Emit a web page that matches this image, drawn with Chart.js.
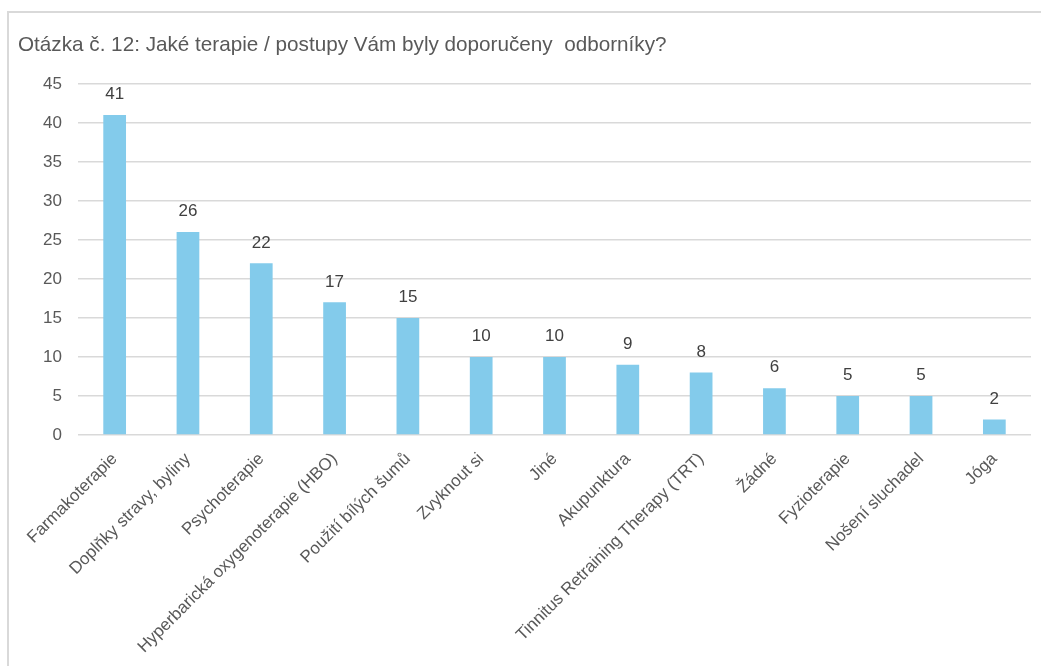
<!DOCTYPE html>
<html>
<head>
<meta charset="utf-8">
<script src="https://cdn.jsdelivr.net/npm/chart.js@4"></script>
<style>
  html, body { margin: 0; padding: 0; background: #fff; overflow: hidden; }
  .frame {
    position: absolute; left: 7px; top: 11px;
    width: 1040px; height: 660px;
    border: 2px solid #d9d9d9; background: #fff;
  }
  .frame canvas { position: absolute; left: 0; top: 0; }
</style>
</head>
<body>
<div class="frame"><canvas id="chart" width="1032" height="653"></canvas></div>
<script>
var categories = [
  "Farmakoterapie",
  "Doplňky stravy, byliny",
  "Psychoterapie",
  "Hyperbarická oxygenoterapie (HBO)",
  "Použití bílých šumů",
  "Zvyknout si",
  "Jiné",
  "Akupunktura",
  "Tinnitus Retraining Therapy (TRT)",
  "Žádné",
  "Fyzioterapie",
  "Nošení sluchadel",
  "Jóga"
];
var counts = [41, 26, 22, 17, 15, 10, 10, 9, 8, 6, 5, 5, 2];
var yTicks = [0, 5, 10, 15, 20, 25, 30, 35, 40, 45];

var titleText = "Otázka č. 12: Jaké terapie / postupy Vám byly doporučeny  odborníky?";

// value labels above each bar
var barValues = {
  id: "barValues",
  afterDatasetsDraw: function (chart) {
    var ctx = chart.ctx;
    var meta = chart.getDatasetMeta(0);
    ctx.save();
    ctx.font = '17px "Liberation Sans", Arial, sans-serif';
    ctx.fillStyle = "#404040";
    ctx.textAlign = "center";
    ctx.textBaseline = "bottom";
    meta.data.forEach(function (bar, i) {
      ctx.fillText(String(counts[i]), bar.x, bar.y - 12);
    });
    ctx.restore();
  }
};

new Chart(document.getElementById("chart"), {
  type: "bar",
  data: {
    labels: categories,
    datasets: [{
      data: counts,
      backgroundColor: "#83CBEB",
      borderWidth: 0,
      barPercentage: 0.31,
      categoryPercentage: 1
    }]
  },
  options: {
    responsive: false,
    animation: false,
    layout: { padding: { left: 9, right: 10, top: 0, bottom: 0 } },
    plugins: {
      legend: { display: false },
      tooltip: { enabled: false },
      title: {
        display: true,
        text: titleText,
        align: "start",
        color: "#595959",
        font: { family: '"Liberation Sans", sans-serif', size: 20.7, weight: "normal", lineHeight: 1.2 },
        padding: { top: 20, bottom: 26 }
      }
    },
    scales: {
      x: {
        grid: { display: false, drawTicks: false },
        border: { display: false },
        ticks: {
          color: "#595959",
          font: { family: '"Liberation Sans", Arial, sans-serif', size: 17 },
          minRotation: 45,
          maxRotation: 45,
          autoSkip: false,
          padding: 14
        },
        afterFit: function (scale) { scale.height = 231; }
      },
      y: {
        min: 0,
        max: 45,
        afterBuildTicks: function (scale) {
          scale.ticks = yTicks.map(function (v) { return { value: v }; });
        },
        grid: { color: "#d9d9d9", lineWidth: 1.5, drawTicks: false },
        border: { display: false },
        ticks: {
          color: "#595959",
          font: { family: '"Liberation Sans", Arial, sans-serif', size: 17 },
          padding: 16
        },
        afterFit: function (scale) { scale.width = 60; }
      }
    }
  },
  plugins: [barValues]
});
</script>
</body>
</html>
